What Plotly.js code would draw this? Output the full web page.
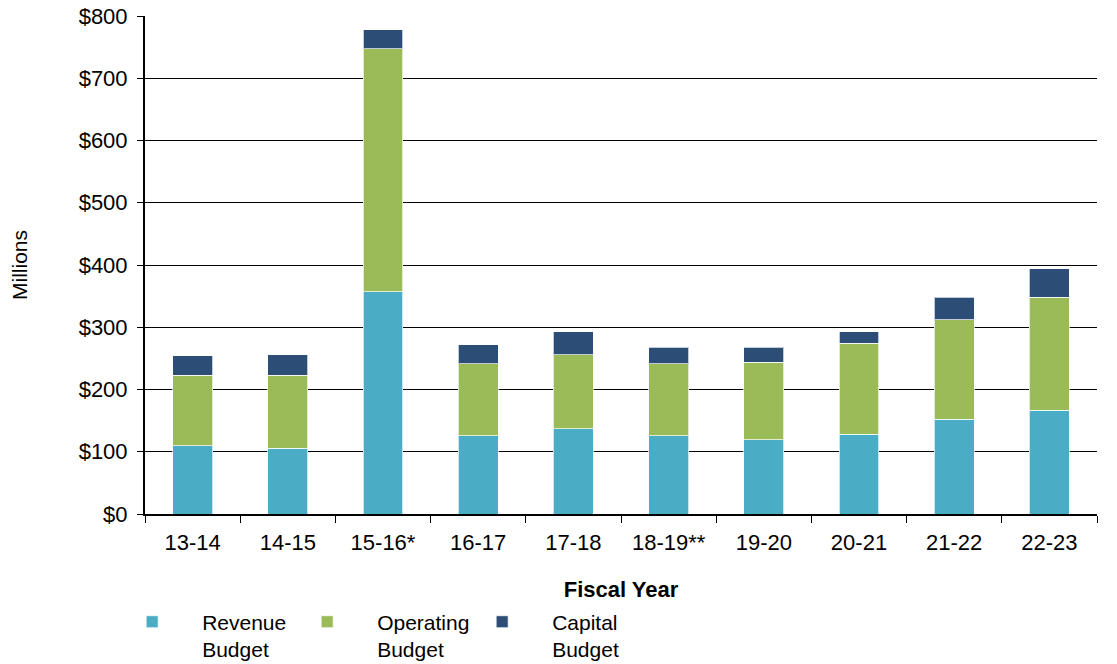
<!DOCTYPE html>
<html>
<head>
<meta charset="utf-8">
<script src="https://cdn.plot.ly/plotly-3.0.1.min.js"></script>
<style>html,body{margin:0;padding:0;background:#fff;}#chart{width:1117px;height:664px;}</style>
</head>
<body>
<div id="chart"></div>
<script>
const fiscalYears = ["13-14","14-15","15-16*","16-17","17-18","18-19**","19-20","20-21","21-22","22-23"];
const revenueBudget = [110,106,357,126,137,126,119,128,152,167];
const operatingBudget = [113,117,390,115,119,115,125,146,160,181];
const capitalBudget = [31,33,31,31,37,27,24,19,36,46];
const yTickVals = [0,100,200,300,400,500,600,700,800];
const yTickText = ["$0","$100","$200","$300","$400","$500","$600","$700","$800"];

const font = "Liberation Sans, Arial, sans-serif";
const barLine = {color: "rgba(255,255,255,0.7)", width: 1};

const traces = [
  {type:"bar", name:"Revenue<br>Budget", x:fiscalYears, y:revenueBudget, marker:{color:"#4BACC6", line:barLine}},
  {type:"bar", name:"Operating<br>Budget", x:fiscalYears, y:operatingBudget, marker:{color:"#9BBB59", line:barLine}},
  {type:"bar", name:"Capital<br>Budget", x:fiscalYears, y:capitalBudget, marker:{color:"#2C4D75", line:barLine}}
];

const layout = {
  width:1117, height:664,
  margin:{l:145, r:20, t:16, b:150},
  barmode:"stack",
  bargap:0.58,
  paper_bgcolor:"#fff", plot_bgcolor:"#fff",
  font:{family:font, size:22, color:"#000"},
  showlegend:true,
  hovermode:false,
  xaxis:{
    type:"category",
    automargin:false,
    showline:true, linecolor:"#000", linewidth:2,
    ticks:"outside", tickson:"boundaries", ticklen:7, tickcolor:"#000", tickwidth:1,
    ticklabelstandoff:8,
    showgrid:false,
    tickfont:{family:font, size:22, color:"#000"},
    title:{text:"<b>Fiscal Year</b>", font:{family:font, size:22, color:"#000"}, standoff:27}
  },
  yaxis:{
    range:[0,800],
    automargin:false,
    tickvals:yTickVals, ticktext:yTickText,
    showline:true, linecolor:"#000", linewidth:2,
    ticks:"outside", ticklen:6, tickcolor:"#000", tickwidth:1,
    ticklabelstandoff:5,
    showgrid:true, gridcolor:"#000", gridwidth:1,
    zeroline:false,
    tickfont:{family:font, size:22, color:"#000"},
    title:{text:"Millions", font:{family:font, size:21, color:"#000"}, standoff:45}
  },
  legend:{
    orientation:"h",
    xref:"paper", x:-0.045, xanchor:"left",
    yref:"container", y:0.094, yanchor:"top",
    itemwidth:90,
    entrywidth:70, entrywidthmode:"pixels",
    valign:"top",
    traceorder:"normal",
    font:{family:font, size:21, color:"#000"},
    bgcolor:"rgba(0,0,0,0)",
    itemclick:false, itemdoubleclick:false
  }
};

Plotly.newPlot("chart", traces, layout, {displayModeBar:false, staticPlot:true});
</script>
</body>
</html>
